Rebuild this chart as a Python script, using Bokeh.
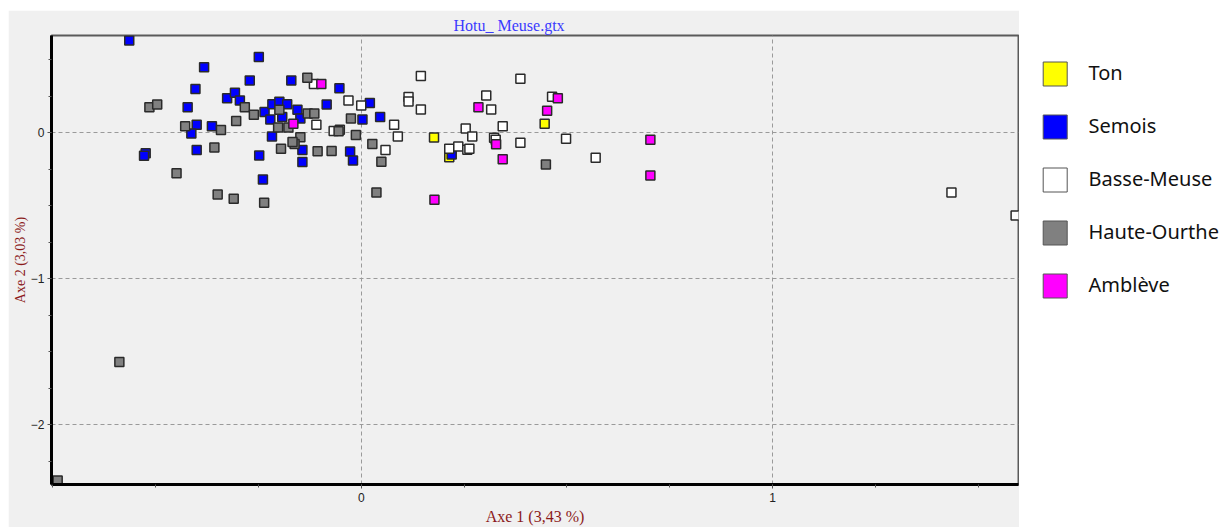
from bokeh.plotting import figure
from bokeh.models import Range1d, SingleIntervalTicker
from bokeh.layouts import row
from bokeh.embed import file_html
from bokeh.resources import INLINE
from bokeh.core.properties import value

# ---------------- data ----------------
categories = ["Ton", "Semois", "Basse-Meuse", "Haute-Ourthe", "Amblève"]
colors = ["#ffff00", "#0000ff", "#ffffff", "#808080", "#ff00ff"]

ton_x = [0.177, 0.214, 0.446]
ton_y = [-0.032, -0.167, 0.062]

semois_x = [-0.564, -0.382, -0.403, -0.422, -0.400, -0.413, -0.363, -0.400, -0.524, -0.528,
            -0.326, -0.307, -0.295, -0.249, -0.271, -0.170, -0.053, -0.235, -0.216, -0.199,
            -0.180, -0.155, -0.084, -0.221, -0.192, -0.148, -0.217, -0.248, -0.239, -0.143,
            -0.143, -0.027, -0.020, 0.021, 0.003, 0.046, 0.220]
semois_y = [0.632, 0.449, 0.299, 0.175, 0.055, -0.005, 0.045, -0.119, -0.140, -0.158,
            0.237, 0.274, 0.221, 0.519, 0.358, 0.358, 0.305, 0.142, 0.196, 0.212,
            0.196, 0.158, 0.194, 0.091, 0.107, 0.098, -0.025, -0.155, -0.320, -0.119,
            -0.200, -0.128, -0.190, 0.204, 0.090, 0.107, -0.149]

basse_x = [-0.115, -0.109, -0.067, -0.052, -0.031, 0.000, 0.080, 0.089, 0.059, 0.145,
           0.115, 0.115, 0.145, 0.254, 0.270, 0.214, 0.236, 0.258, 0.263, 0.304,
           0.316, 0.344, 0.323, 0.327, 0.387, 0.387, 0.464, 0.498, 0.570, 1.435, 1.591]
basse_y = [0.333, 0.055, 0.012, 0.021, 0.220, 0.186, 0.055, -0.025, -0.118, 0.388,
           0.244, 0.214, 0.160, 0.029, -0.025, -0.110, -0.094, -0.116, -0.110, 0.255,
           0.160, 0.045, -0.034, -0.048, 0.370, -0.068, 0.247, -0.041, -0.171, -0.409, -0.566]

haute_x = [-0.515, -0.496, -0.428, -0.341, -0.357, -0.449, -0.349, -0.310, -0.236, -0.283,
           -0.261, -0.304, -0.199, -0.202, -0.177, -0.131, -0.130, -0.114, -0.148, -0.162,
           -0.167, -0.055, -0.025, -0.013, -0.195, -0.106, -0.072, 0.027, 0.049, 0.037,
           0.449, -0.588, -0.738]
haute_y = [0.175, 0.194, 0.045, 0.019, -0.101, -0.277, -0.423, -0.452, -0.479, 0.175,
           0.124, 0.081, 0.158, 0.036, 0.036, 0.377, 0.132, 0.132, -0.030, -0.077,
           -0.063, 0.011, 0.098, -0.015, -0.109, -0.127, -0.125, -0.077, -0.199, -0.410,
           -0.217, -1.570, -2.382]

ambleve_x = [-0.097, -0.165, 0.178, 0.285, 0.328, 0.344, 0.478, 0.452, 0.703, 0.703]
ambleve_y = [0.333, 0.062, -0.459, 0.175, -0.078, -0.181, 0.237, 0.151, -0.048, -0.292]

series_x = [ton_x, semois_x, basse_x, haute_x, ambleve_x]
series_y = [ton_y, semois_y, basse_y, haute_y, ambleve_y]

x_ticks_interval = 1
y_ticks_interval = 1

# ---------------- layout constants (page pixels) ----------------
LEFT, TOP = 8, 10          # white strip around the grey panel
W, H = 1011, 517           # grey panel size
B_LEFT, B_TOP, B_BOTTOM, B_RIGHT = 43, 25, 43, 1
FRAME_TOP = TOP + B_TOP
FRAME_BOTTOM = TOP + H - B_BOTTOM

# ---------------- main plot ----------------
p = figure(width=W, height=H, margin=(TOP, 0, 0, LEFT),
           x_range=Range1d(-0.753, 1.598), y_range=Range1d(-2.409, 0.666),
           output_backend="svg", toolbar_location=None,
           min_border_left=B_LEFT, min_border_right=B_RIGHT,
           min_border_top=B_TOP, min_border_bottom=B_BOTTOM,
           background_fill_color="#f0f0f0", border_fill_color="#f0f0f0",
           outline_line_color="#5a5a5a", outline_line_width=2)

p.title.text = "Hotu_ Meuse.gtx"
p.title.align = "left"
p.title.offset = 402
p.title.standoff = 3
p.title.text_color = "#3b3bff"
p.title.text_font = "Liberation Serif"
p.title.text_font_size = "16px"
p.title.text_font_style = "normal"

p.xaxis.ticker = SingleIntervalTicker(interval=x_ticks_interval, num_minor_ticks=4)
p.yaxis.ticker = SingleIntervalTicker(interval=y_ticks_interval, num_minor_ticks=4)
p.xaxis.axis_label = "Axe 1 (3,43 %)"
p.yaxis.axis_label = "Axe 2 (3,03 %)"
for ax in (p.xaxis, p.yaxis):
    ax.axis_line_color = "black"
    ax.axis_line_width = 3
    ax.major_tick_out = 4
    ax.major_tick_in = 0
    ax.minor_tick_out = 3
    ax.minor_tick_in = 0
    ax.major_tick_line_color = "#555555"
    ax.minor_tick_line_color = "#555555"
    ax.major_label_text_font = "Liberation Sans"
    ax.major_label_text_font_size = "12px"
    ax.major_label_text_color = "#222222"
    ax.major_label_standoff = 4
    ax.axis_label_text_font = "Liberation Serif"
    ax.axis_label_text_font_size = "16px"
    ax.axis_label_text_font_style = "normal"
    ax.axis_label_text_color = "#8b1a1a"
    ax.axis_label_standoff = 3
p.yaxis.axis_label_text_font_size = "14px"
p.yaxis.axis_label_standoff = 0
p.yaxis.major_label_standoff = 3

for g in (p.xgrid, p.ygrid):
    g.grid_line_color = "#9a9a9a"
    g.grid_line_dash = "4 3"
    g.grid_line_width = 1

for xs, ys, c in zip(series_x, series_y, colors):
    p.scatter(x=xs, y=ys, marker="square", size=9, fill_color=c,
              line_color="#2a2a2a", line_width=1.5)

# ---------------- legend panel (ranges expressed in page pixels) ----------------
LX0 = LEFT + W
LW = 200
lg = figure(width=LW, height=H, margin=(TOP, 0, 0, 0),
            x_range=Range1d(LX0, LX0 + LW), y_range=Range1d(FRAME_BOTTOM, FRAME_TOP),
            output_backend="svg", toolbar_location=None,
            min_border_left=0, min_border_right=0,
            min_border_top=B_TOP, min_border_bottom=B_BOTTOM,
            background_fill_color="white", border_fill_color="white",
            outline_line_color=None)
lg.axis.visible = False
lg.grid.visible = False
ys_sw = [73.5 + 53 * i for i in range(len(categories))]
lg.rect(x=[1054.7] * len(categories), y=ys_sw, width=24, height=24,
        fill_color=colors, line_color="#555555", line_width=1)
lg.text(x=[1088] * len(categories), y=[v - 2 for v in ys_sw], text=categories,
        text_baseline="middle", text_align="left",
        text_font=value("Noto Sans"), text_font_size="20px", text_color="#111111")

layout = row(p, lg, spacing=0)
open("out.html", "w").write(file_html(layout, INLINE))
